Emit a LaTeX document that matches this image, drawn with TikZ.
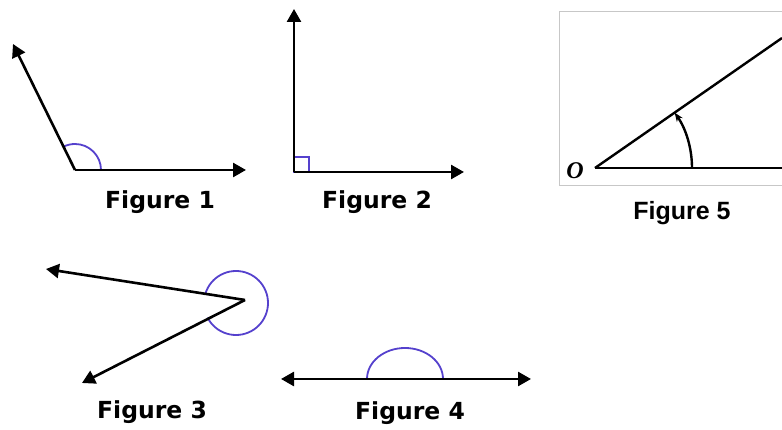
\documentclass[tikz,border=0pt]{standalone}
\usepackage{fontspec}
\newfontfamily\figfont{DejaVu Sans}
\newfontfamily\capfont{Liberation Sans}
\newfontfamily\ptfont{Liberation Serif}
\usetikzlibrary{arrows.meta}
\definecolor{arcblue}{RGB}{85,65,205}

\begin{document}
\begin{tikzpicture}[
  x=1pt, y=1pt,
  ray/.style={line width=2.6pt, -{Triangle[length=13pt,width=14pt]}},
  dray/.style={line width=2.6pt, {Triangle[length=13pt,width=14pt]}-{Triangle[length=13pt,width=14pt]}},
  anglemark/.style={draw=arcblue, line width=1.8pt},
  caption/.style={font=\figfont\bfseries\fontsize{23.5}{25}\selectfont, inner sep=0pt},
  capfive/.style={font=\capfont\bfseries\fontsize{25}{27}\selectfont, inner sep=0pt}
]
\useasboundingbox (0,0) rectangle (782,430);

% Figure 1
\coordinate (v1) at (75,260);
\coordinate (a1) at (13,386);
\coordinate (b1) at (246,260);
\draw[anglemark] ([shift={(0:26)}]v1) arc[start angle=0, end angle=116, radius=26];
\draw[ray] (v1) -- (a1);
\draw[ray] (v1) -- (b1);
\node[caption] (f1) at (160,228) {Figure 1};

% Figure 2
\coordinate (v2) at (294,258);
\coordinate (a2) at (294,421);
\coordinate (b2) at (464,258);
\draw[anglemark] (v2) rectangle ++(15,15);
\draw[ray] (v2) -- (a2);
\draw[ray] (v2) -- (b2);
\node[caption] (f2) at (377,228) {Figure 2};

% Figure 3
\coordinate (v3) at (245,130);
\coordinate (c3) at (236,127);
\coordinate (a3) at (46,161);
\coordinate (b3) at (82,47);
\draw[anglemark] ([shift={(163:32)}]c3) arc[start angle=163, end angle=-153, radius=32];
\draw[ray] (v3) -- (a3);
\draw[ray] (v3) -- (b3);
\node[caption] (f3) at (152,18) {Figure 3};

% Figure 4
\coordinate (a4) at (281,51);
\coordinate (c4) at (405,51);
\coordinate (b4) at (531,51);
\draw[anglemark] ([shift={(0:38)}]c4) arc[start angle=0, end angle=180, x radius=38, y radius=31];
\draw[dray] (a4) -- (b4);
\node[caption] (f4) at (410,17) {Figure 4};

% Figure 5
\draw[black!22, line width=1pt] (782,418) -- (559,418) -- (559,244) -- (782,244);
\coordinate (v5) at (595,262);
\coordinate (a5) at (782,392);
\coordinate (b5) at (782,262);
\draw[line width=2.4pt] (v5) -- (a5);
\draw[line width=2.4pt] (v5) -- (b5);
\draw[line width=2.4pt, -{Stealth[length=9pt,width=7pt]}] ([shift={(0:97)}]v5) arc[start angle=0, end angle=34.8, radius=97];
\node[font=\ptfont\bfseries\itshape\fontsize{24}{26}\selectfont, inner sep=0pt] (o5) at (575,259) {O};
\node[capfive] (f5) at (682,217) {Figure 5};

\end{tikzpicture}
\end{document}
